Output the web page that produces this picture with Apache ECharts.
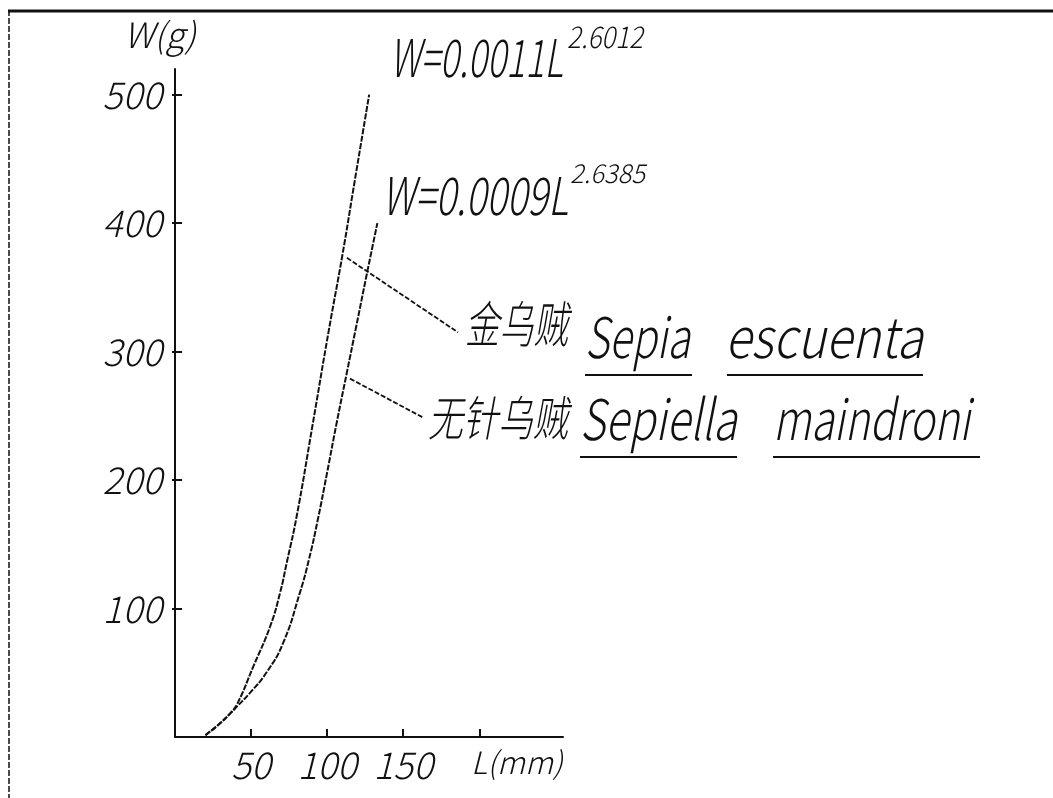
<!DOCTYPE html>
<html><head><meta charset="utf-8">
<script src="https://cdn.jsdelivr.net/npm/echarts@6/dist/echarts.min.js"></script>
<style>html,body{margin:0;padding:0;background:#fff}#c{width:1053px;height:798px}</style>
</head><body><div id="c"></div>
<script>
// ---- data ----
const sepiaL = [20, 28, 36, 41, 51.5, 62.5, 69, 73.5, 80, 90, 101, 110, 118, 127.6];
const sepiaW = [1.5, 9, 18, 26, 55, 86, 112, 136, 172, 240, 316, 375, 432, 500];
const sepiellaL = [20, 28, 36, 41, 49, 60, 71, 82, 88, 94, 100, 106, 113, 119, 126, 133];
const sepiellaW = [1.5, 9, 18, 24, 34, 50, 73, 112, 138, 170, 206, 243, 284, 319, 360, 400];
const leader1L = [113, 186];
const leader1W = [373, 315];
const leader2L = [115, 162.5];
const leader2W = [279, 249];
const xTickValues = [50, 100, 150, 200];
const xLabelValues = [50, 100, 150];
const yTickValues = [100, 200, 300, 400, 500];
const eq1 = 'W=0.0011L', eq1Exp = '2.6012';
const eq2 = 'W=0.0009L', eq2Exp = '2.6385';
const cn1 = '金乌贼', cn2 = '无针乌贼';
const genus1 = 'Sepia', species1 = 'escuenta';
const genus2 = 'Sepiella', species2 = 'maindroni';

const zip = (a, b) => a.map((v, i) => [v, b[i]]);
const FONT = '"Noto Sans CJK SC", "DejaVu Sans", sans-serif';
const INK = '#111';
const W = 300;

const mctx = document.createElement('canvas').getContext('2d');
function measure(text, size) {
  mctx.font = 'italic ' + W + ' ' + size + 'px ' + FONT;
  return mctx.measureText(text).width;
}
// text fitted horizontally between left and right, vertically centred at y
function txt(text, left, right, y, size) {
  const sx = (right - left) / measure(text, size);
  return {type: 'text', x: left, y: y, scaleX: sx, silent: true,
    style: {text: text, fontSize: size, fontFamily: FONT, fontStyle: 'italic', fontWeight: W,
      fill: INK, textAlign: 'left', textVerticalAlign: 'middle', align: 'left', verticalAlign: 'middle'}};
}
function ln(x1, y1, x2, y2, w, dash) {
  return {type: 'line', silent: true, shape: {x1, y1, x2, y2},
    style: {stroke: INK, lineWidth: w, lineDash: dash || null}};
}

const chart = echarts.init(document.getElementById('c'));
const axisFont = {fontSize: 37, fontFamily: FONT, fontStyle: 'italic', fontWeight: W, color: INK};
chart.setOption({
  animation: false,
  backgroundColor: '#fff',
  grid: {left: 175, right: 490, top: 69, bottom: 61, containLabel: false},
  xAxis: {
    type: 'value', min: 0, max: 255,
    axisLine: {show: true, onZero: false, lineStyle: {color: INK, width: 2}},
    axisTick: {show: true, inside: true, length: 8, customValues: xTickValues, lineStyle: {color: INK, width: 2}},
    axisLabel: Object.assign({customValues: xLabelValues, margin: 9}, axisFont),
    splitLine: {show: false},
    name: 'L(mm)', nameLocation: 'end', nameGap: -92,
    nameTextStyle: Object.assign({align: 'left', verticalAlign: 'top', padding: [10, 0, 0, 0]}, axisFont, {fontSize: 31})
  },
  yAxis: [{
    type: 'value', min: 0, max: 520,
    axisLine: {show: true, onZero: false, lineStyle: {color: INK, width: 2}},
    axisTick: {show: true, inside: true, length: 7, customValues: yTickValues, lineStyle: {color: INK, width: 2}},
    axisLabel: Object.assign({customValues: yTickValues, margin: 13, padding: [0, 0, 10, 0]}, axisFont),
    splitLine: {show: false},
    name: 'W(g)', nameLocation: 'end', nameGap: 17,
    nameTextStyle: Object.assign({padding: [0, 30, 0, 0]}, axisFont, {fontSize: 35})
  }, {
    type: 'value', min: 0, max: 520, position: 'left',
    axisLine: {show: false},
    axisTick: {show: true, inside: false, length: 3, customValues: yTickValues, lineStyle: {color: INK, width: 2}},
    axisLabel: {show: false}, splitLine: {show: false}
  }],
  series: [
    {name: cn1, type: 'line', data: zip(sepiaL, sepiaW), showSymbol: false, smooth: 0.5,
      lineStyle: {color: INK, width: 2, type: [6, 1.5]}},
    {name: cn2, type: 'line', data: zip(sepiellaL, sepiellaW), showSymbol: false, smooth: 0.5,
      lineStyle: {color: INK, width: 2, type: [6, 1.5]}},
    {type: 'line', data: zip(leader1L, leader1W), showSymbol: false, lineStyle: {color: INK, width: 1.8, type: [5, 2]}},
    {type: 'line', data: zip(leader2L, leader2W), showSymbol: false, lineStyle: {color: INK, width: 1.8, type: [5, 2]}}
  ],
  graphic: {elements: [
    ln(8, 11, 1053, 11, 3),
    ln(9, 10, 9, 798, 1.5, [6, 2]),
    txt(eq1, 390, 563, 57, 52),
    txt(eq1Exp, 567, 643, 37, 30),
    txt(eq2, 382, 568, 195, 52),
    txt(eq2Exp, 570, 645, 173, 26),
    txt(cn1, 465, 568, 324, 50),
    txt(cn2, 428, 568, 418, 48),
    txt(genus1, 585, 690, 337, 56),
    txt(species1, 725, 923, 337, 56),
    txt(genus2, 580, 737, 419, 56),
    txt(species2, 773, 970, 419, 56),
    ln(585, 375, 692, 375, 2),
    ln(727, 375, 923, 375, 2),
    ln(580, 457, 737, 457, 2),
    ln(773, 457, 980, 457, 2)
  ]}
});
</script></body></html>
